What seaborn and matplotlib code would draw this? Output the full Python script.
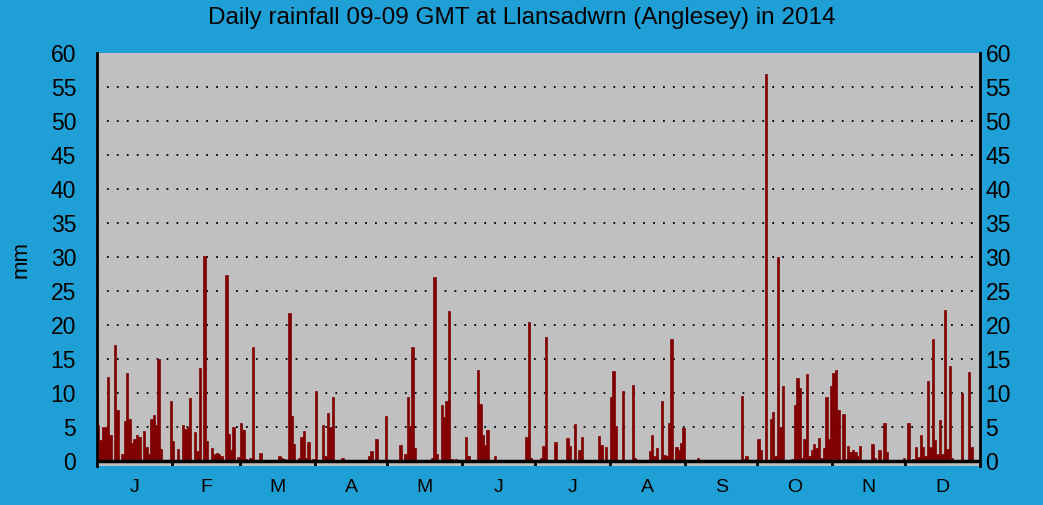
import numpy as np
import pandas as pd
import matplotlib
matplotlib.use('Agg')
import matplotlib.pyplot as plt
import seaborn as sb

# daily rainfall (mm)
jan = [5.3, 3.1, 5.0, 5.0, 12.4, 3.8, 0.2, 17.1, 7.5, 0, 1.0, 5.9, 13.0, 6.2, 2.7, 3.2,
       3.8, 3.5, 0, 4.4, 2.0, 1.0, 6.2, 6.8, 5.3, 15.0, 1.8, 0, 0, 0, 8.8]
feb = [2.9, 0, 1.8, 0, 5.3, 4.7, 5.0, 9.3, 0.2, 4.3, 1.5, 13.7, 0.2, 30.1, 2.9, 0,
       1.9, 1.0, 1.2, 1.0, 0.7, 0, 27.4, 4.0, 1.6, 5.0, 0, 0.6]
mar = [5.6, 4.6, 0.3, 0, 0.4, 16.8, 0, 0, 1.2, 0, 0, 0, 0, 0, 0, 0, 0.7, 0.4, 0.3, 0,
       21.8, 6.6, 2.5, 0, 0.4, 3.5, 4.4, 0.4, 2.8, 0, 0.3]
apr = [10.3, 0, 0, 5.3, 0.7, 7.1, 5.0, 9.4, 0, 0, 0, 0.4, 0, 0, 0, 0, 0, 0, 0, 0,
       0, 0, 0.7, 1.5, 0, 3.2, 0, 0, 0, 6.6]
may = [0, 0, 0, 0, 0, 2.4, 0, 1.0, 9.4, 5.1, 16.8, 1.9, 0, 0, 0, 0, 0, 0, 0.4, 27.1,
       1.0, 0, 8.2, 6.5, 8.8, 22.1, 0.3, 0, 0.3, 0, 0]
jun = [0, 3.5, 0.7, 0, 0, 0, 13.4, 8.4, 3.8, 2.4, 4.6, 0, 0, 0.7, 0, 0, 0, 0, 0, 0,
       0, 0, 0, 0, 0, 0, 3.5, 20.4, 0.4, 0]
jul = [0, 0, 0.4, 2.2, 18.2, 0, 0, 0, 2.8, 0, 0, 0, 0, 3.4, 2.2, 0, 5.4, 0, 1.6, 3.5,
       0, 0, 0, 0, 0, 0, 3.7, 2.4, 0, 2.1, 0]
aug = [9.4, 13.2, 5.1, 0, 0, 10.3, 0, 0, 0, 11.2, 0.4, 0, 0, 0, 0, 0, 1.5, 3.8, 0.7,
       1.9, 0, 8.8, 0.9, 0.7, 5.6, 17.9, 0, 2.1, 1.6, 2.6, 4.9]
sep = [0, 0, 0, 0, 0, 0.4, 0, 0, 0, 0, 0, 0, 0, 0, 0, 0, 0, 0, 0, 0, 0, 0, 0, 9.6,
       0.3, 0.7, 0, 0, 0, 0]
oct_ = [3.2, 1.6, 0, 56.9, 0, 6.2, 7.2, 0.7, 30.0, 5.0, 11.0, 0, 0, 0, 0.3, 8.2, 12.2,
        10.7, 0.4, 3.2, 12.8, 0.7, 1.6, 2.5, 1.9, 3.4, 0.4, 1.9, 9.4, 3.2, 11.0]
nov = [12.9, 13.4, 7.5, 0, 6.9, 0.3, 2.2, 1.3, 1.6, 1.3, 0.7, 2.2, 0, 0, 0, 0, 2.5,
       0.4, 0, 1.6, 0, 5.6, 1.3, 0, 0, 0, 0, 0, 0, 0.4]
dec = [0, 5.6, 0, 0.3, 2.1, 0.6, 3.8, 2.1, 0.7, 11.8, 2.1, 17.9, 3.1, 1.0, 6.0, 1.0,
       22.2, 1.8, 14.0, 0.4, 0, 0, 0, 10.0, 0, 0, 13.1, 2.1, 0, 0, 0]

months = [jan, feb, mar, apr, may, jun, jul, aug, sep, oct_, nov, dec]
month_labels = ['J', 'F', 'M', 'A', 'M', 'J', 'J', 'A', 'S', 'O', 'N', 'D']

rain = np.concatenate(months)
df = pd.DataFrame({'day': np.arange(len(rain)), 'rain': rain})

blue = '#1ea0d7'
bar_red = '#800000'
plt.rcParams['font.family'] = ['Liberation Sans', 'DejaVu Sans']

fig = plt.figure(figsize=(10.43, 5.05), dpi=100, facecolor=blue)
ax = fig.add_axes([97 / 1043, 1 - 466 / 505, 883 / 1043, 413 / 505])
ax.set_facecolor('#c0c0c0')

# 365 bars, one per day; a thin edge of the same colour fattens them a bit
sb.barplot(data=df, x='day', y='rain', color=bar_red, width=1.0,
           errorbar=None, saturation=1, edgecolor=bar_red, linewidth=0.5, ax=ax)

ax.set_xlim(-0.5, len(rain) - 0.5)
ax.set_ylim(-0.75, 60)
ax.set_yticks(np.arange(0, 61, 5))
for y in range(5, 60, 5):
    ax.axhline(y, color='black', lw=1.3, ls=(0, (1, 4.5)), zorder=0)
ax.axhline(0, color='black', lw=2.5, zorder=3)

# month boundaries as ticks, labels in the middle of each month
lengths = [len(m) for m in months]
edges = np.concatenate([[0], np.cumsum(lengths)]) - 0.5
centres = (edges[:-1] + edges[1:]) / 2
ax.vlines(edges[1:-1], -0.75, 0, color='black', lw=2, zorder=3)
ax.set_xticks(centres)
ax.set_xticklabels(month_labels, fontsize=14)
ax.tick_params(axis='x', length=0, pad=9)
ax.tick_params(axis='y', labelsize=16.5, length=0, pad=15)
ax.set_xlabel('')
ax.set_ylabel('mm', fontsize=16, labelpad=14)

for s in ['top', 'bottom']:
    ax.spines[s].set_visible(False)
for s in ['left', 'right']:
    ax.spines[s].set_color('black')
    ax.spines[s].set_linewidth(2)

ax2 = ax.twinx()
ax2.set_ylim(ax.get_ylim())
ax2.set_yticks(np.arange(0, 61, 5))
ax2.tick_params(axis='y', labelsize=16.5, length=0, pad=4)
for s in ['top', 'bottom', 'left', 'right']:
    ax2.spines[s].set_visible(False)

fig.text(0.5, 1 - 18 / 505, 'Daily rainfall 09-09 GMT at Llansadwrn (Anglesey) in 2014',
         ha='center', va='center', fontsize=17.5)

fig.savefig('out.png', dpi=100, facecolor=blue)
